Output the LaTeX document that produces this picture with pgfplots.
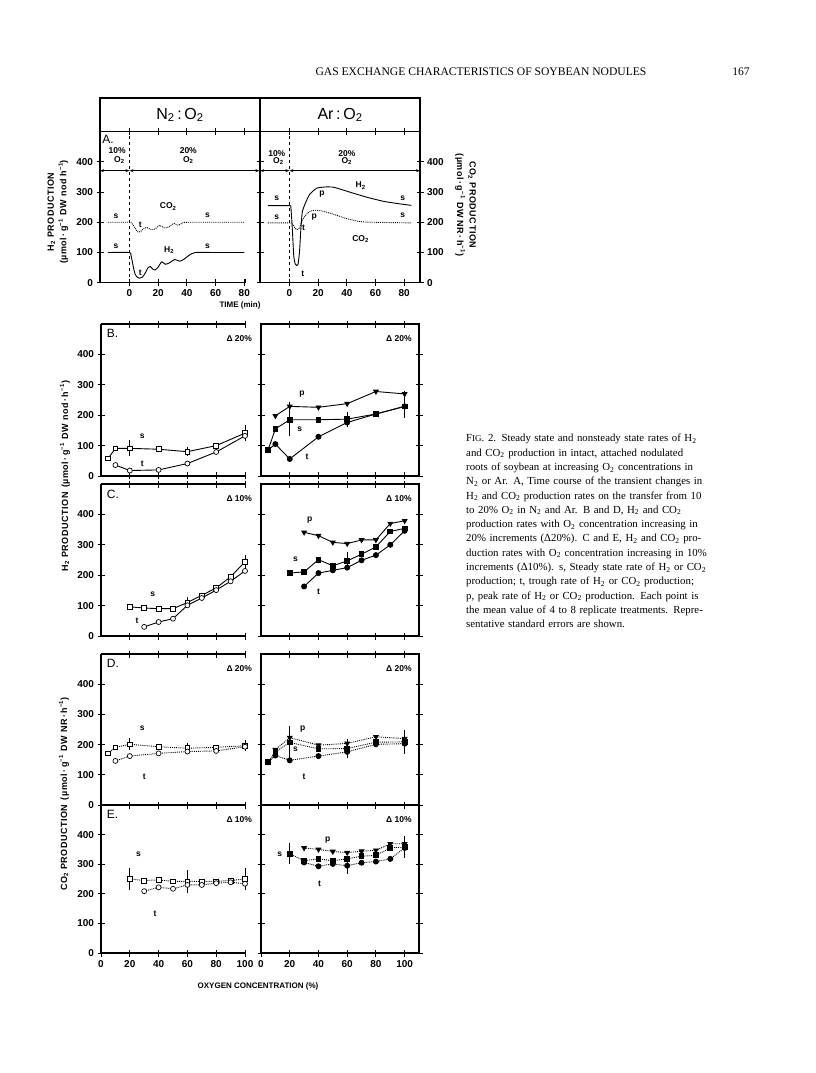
\documentclass[border=0pt]{standalone}
\usepackage{fontspec}
\setmainfont{Liberation Serif}
\setsansfont{Liberation Sans}
\usepackage{pgfplots}
\pgfplotsset{compat=1.18}
\usetikzlibrary{arrows.meta}
\setlength{\parindent}{0pt}
\newcommand{\sub}[1]{\textsubscript{#1}}
\newcommand{\sups}[1]{\textsuperscript{#1}}
\newcommand{\titfont}{\sffamily\bfseries\fontsize{9}{12.5}\selectfont\addfontfeature{LetterSpace=6}}
% top axis line and its ticks for the panels that are open on the right
\newcommand{\topticks}[1]{\pgfplotsinvokeforeach{#1}{\draw[line width=0.9pt] (axis cs:##1,500) ++(0pt,3.5pt) -- ++(0pt,-7pt);}}
\newcommand{\topline}{\draw[line width=1.1pt] (rel axis cs:0,1) -- (rel axis cs:1,1);}

\tikzset{
  lab/.style={font=\sffamily\bfseries\fontsize{8.5}{9}\selectfont, inner sep=0pt},
  plet/.style={font=\sffamily\fontsize{12}{12}\selectfont, anchor=north west, inner sep=0pt},
  dlab/.style={font=\sffamily\bfseries\fontsize{8.5}{9}\selectfont, anchor=north east, inner sep=0pt},
}
\pgfplotsset{
  panel/.style={
    scale only axis, anchor=north west, clip=false,
    ymin=0, ymax=500, ytick={0,100,200,300,400},
    tick align=center, major tick length=7pt,
    every tick/.append style={line width=0.9pt, black},
    axis line style={line width=1.1pt, black},
    tick label style={font=\sffamily\bfseries\fontsize{10}{11}\selectfont},
    /pgf/number format/assume math mode=true,
    every axis plot/.append style={line width=0.9pt, black},
  },
  openright/.style={axis x line*=bottom, axis y line*=left, x axis line style={-}, y axis line style={-}},
  lpanel/.style={panel, openright, width=144pt, xmin=0, xmax=100, xtick={20,40,60,80,100}},
  rpanel/.style={panel, width=158pt, xmin=0, xmax=110, xtick={20,40,60,80,100}, yticklabels={}},
  noxl/.style={xticklabels={}},
  osq/.style={mark=square*, mark options={fill=white, solid, line width=0.7pt}, mark size=2.4pt},
  oci/.style={mark=*, mark options={fill=white, solid, line width=0.7pt}, mark size=2.5pt},
  fsq/.style={mark=square*, mark options={fill=black, solid}, mark size=2.4pt},
  fci/.style={mark=*, mark options={fill=black, solid}, mark size=2.5pt},
  ftr/.style={mark=triangle*, mark options={fill=black, solid, rotate=180}, mark size=2.6pt},
  eb/.style={error bars/.cd, y dir=both, y explicit, error mark=none,
     error bar style={line width=0.8pt, solid}},
}

\begin{document}
\begin{tikzpicture}
\path[use as bounding box, fill=white] (0pt,0pt) rectangle (816pt,-1073pt);

% page header
\node[font=\fontsize{11.6}{12}\selectfont, anchor=base] at (481pt,-75pt) {GAS EXCHANGE CHARACTERISTICS OF SOYBEAN NODULES};
\node[font=\fontsize{11.6}{12}\selectfont, anchor=base] at (741pt,-75pt) {167};

% header box of panel A
\draw[line width=1.1pt] (100pt,-98pt) rectangle (420pt,-131.7pt);
\draw[line width=1.1pt] (260pt,-98pt) -- (260pt,-131.7pt);
\node[font=\sffamily\fontsize{16}{18}\selectfont] at (180pt,-115pt) {N\sub{2}\,:\,O\sub{2}};
\node[font=\sffamily\fontsize{16}{18}\selectfont] at (340pt,-115pt) {Ar\,:\,O\sub{2}};

% ---------------- Panel A left ----------------
\begin{axis}[panel, openright, at={(100pt,-131.7pt)}, width=145pt, height=151pt,
  xmin=-20.5, xmax=80.5, xtick={0,20,40,60,80}]
\addplot[densely dotted, smooth, tension=0.4] coordinates {
 (-15,200) (0,200) (2,195) (4,180) (6,168) (8,170) (10,180) (12,183) (15,176) (18,178)
 (21,190) (24,182) (27,184) (31,196) (34,190) (37,198) (40,200) (60,200) (80,200)};
\addplot[smooth, tension=0.4] coordinates {
 (-15,100) (0,100) (1,92) (2,70) (3,45) (4,28) (5,20) (7,15) (9,18) (11,32) (13,50)
 (14.5,54) (16.5,44) (18,42) (20,52) (22.5,69) (25,61) (28,66) (31.5,77) (35,71)
 (38,78) (42,92) (46,100) (60,100) (80,100)};
\topticks{0,20,40,60,80}
\draw[line width=0.9pt] (axis cs:80.5,0) -- ++(0pt,4pt);
\draw[dashed, line width=0.9pt] (axis cs:0,0) -- (axis cs:0,500);
\draw[line width=0.8pt, {Stealth[length=4pt]}-{Stealth[length=4pt]}] (axis cs:-20.5,371) -- (axis cs:0,371);
\draw[line width=0.8pt, {Stealth[length=4pt]}-{Stealth[length=4pt]}] (axis cs:0,371) -- (axis cs:90.5,371);
\node[plet] at (axis cs:-19,490) {A.};
\node[lab] at (axis cs:-8.6,436) {10\%};
\node[lab] at (axis cs:-7,406) {O\sub{2}};
\node[lab] at (axis cs:41,436) {20\%};
\node[lab] at (axis cs:41,406) {O\sub{2}};
\node[lab] at (axis cs:-9.3,220) {s};
\node[lab] at (axis cs:27,252) {CO\sub{2}};
\node[lab] at (axis cs:54.4,223) {s};
\node[lab] at (axis cs:7.5,191) {t};
\node[lab] at (axis cs:-9.3,121) {s};
\node[lab] at (axis cs:27.7,108) {H\sub{2}};
\node[lab] at (axis cs:7.5,33) {t};
\node[lab] at (axis cs:54.4,121) {s};
\end{axis}

% ---------------- Panel A right ----------------
\begin{axis}[panel, at={(260pt,-131.7pt)}, width=160pt, height=151pt,
  xmin=-20.5, xmax=91, xtick={0,20,40,60,80}, yticklabel pos=right]
\addplot[densely dotted, smooth, tension=0.4] coordinates {
 (-15,198) (0,198) (2,196) (4,180) (5,176) (7,180) (8,195) (10,215) (13,232) (17,240)
 (22,238) (30,228) (40,212) (50,202) (60,200) (85,198)};
\addplot[smooth, tension=0.3] coordinates {
 (-15,255) (0,255) (1,250) (2,180) (3,90) (4,62) (5,57) (6,60) (7,100) (8,180) (9,235)
 (11,262) (14,292) (19,313) (25,317) (31,316) (42,300) (54,283) (66,269) (77,261) (85,256)};
\draw[dashed, line width=0.9pt] (axis cs:0,0) -- (axis cs:0,500);
\draw[line width=0.8pt, {Stealth[length=4pt]}-{Stealth[length=4pt]}] (axis cs:-20.5,371) -- (axis cs:0,371);
\draw[line width=0.8pt, {Stealth[length=4pt]}-{Stealth[length=4pt]}] (axis cs:0,371) -- (axis cs:91,371);
\node[lab] at (axis cs:-8.8,429) {10\%};
\node[lab] at (axis cs:-7.7,402) {O\sub{2}};
\node[lab] at (axis cs:40,429) {20\%};
\node[lab] at (axis cs:40,402) {O\sub{2}};
\node[lab] at (axis cs:49.6,322) {H\sub{2}};
\node[lab] at (axis cs:-8.8,278) {s};
\node[lab] at (axis cs:22.7,295) {p};
\node[lab] at (axis cs:78.9,281) {s};
\node[lab] at (axis cs:-8.8,216) {s};
\node[lab] at (axis cs:17.3,216) {p};
\node[lab] at (axis cs:78.9,222) {s};
\node[lab] at (axis cs:9.8,181) {t};
\node[lab] at (axis cs:49.6,145) {CO\sub{2}};
\node[lab] at (axis cs:9.4,30) {t};
\end{axis}

\node[font=\sffamily\bfseries\fontsize{8}{9}\selectfont] at (240pt,-305pt) {TIME (min)};
\node[rotate=90, align=center, font=\titfont] at (58pt,-212pt)
  {H\sub{2} PRODUCTION\\(µmol\,·\,g\sups{−1} DW nod h\sups{−1})};
\node[rotate=-90, align=center, font=\titfont] at (465.5pt,-205pt)
  {CO\sub{2} PRODUCTION\\(µmol\,·\,g\sups{−1} DW NR\,·\,h\sups{−1})};

% ---------------- Panel B left ----------------
\begin{axis}[lpanel, noxl, at={(101pt,-324pt)}, height=152pt]
\addplot[osq, eb] coordinates {(5,58) +- (0,0) (10,91) +- (0,0) (20,91) +- (0,26) (40,88) +- (0,0)
 (60,80) +- (0,15) (80,100) +- (0,0) (100,141) +- (0,26)};
\addplot[oci] coordinates {(10,36) (20,18) (40,20) (60,41) (80,79) (100,132)};
\topline \topticks{20,40,60,80,100}
\node[plet] at (axis cs:4,482) {B.};
\node[dlab] at (axis cs:105,462) {Δ 20\%};
\node[lab] at (axis cs:28.6,132) {s};
\node[lab] at (axis cs:28.6,40) {t};
\end{axis}

% ---------------- Panel B right ----------------
\begin{axis}[rpanel, noxl, at={(261pt,-324pt)}, height=152pt]
\addplot[ftr, eb] coordinates {(10,198) +- (0,0) (20,229) +- (0,15) (40,226) +- (0,0) (60,238) +- (0,0)
 (80,278) +- (0,0) (100,270) +- (0,10)};
\addplot[fsq, eb] coordinates {(5,86) +- (0,0) (10,155) +- (0,0) (20,185) +- (0,55) (40,185) +- (0,0)
 (60,187) +- (0,25) (80,204) +- (0,0) (100,229) +- (0,38)};
\addplot[fci] coordinates {(5,86) (10,105) (20,56) (40,129) (60,176) (80,204) (100,229)};
\node[dlab] at (axis cs:105,462) {Δ 20\%};
\node[lab] at (axis cs:28.6,270) {p};
\node[lab] at (axis cs:27,155) {s};
\node[lab] at (axis cs:32,64) {t};
\end{axis}

% ---------------- Panel C left ----------------
\begin{axis}[lpanel, noxl, at={(101pt,-484pt)}, height=152pt]
\addplot[osq, eb] coordinates {(20,96) +- (0,5) (30,92) +- (0,0) (40,90) +- (0,0) (50,90) +- (0,0)
 (60,110) +- (0,18) (70,134) +- (0,0) (80,158) +- (0,0) (90,195) +- (0,0) (100,244) +- (0,22)};
\addplot[oci] coordinates {(30,30) (40,46) (50,57) (60,101) (70,125) (80,151) (90,180) (100,214)};
\topline \topticks{20,40,60,80,100}
\node[plet] at (axis cs:4,482) {C.};
\node[dlab] at (axis cs:105,462) {Δ 10\%};
\node[lab] at (axis cs:36,137) {s};
\node[lab] at (axis cs:25,49) {t};
\end{axis}

% ---------------- Panel C right ----------------
\begin{axis}[rpanel, noxl, at={(261pt,-484pt)}, height=152pt]
\addplot[ftr] coordinates {(30,341) (40,330) (50,308) (60,304) (70,316) (80,316) (90,370) (100,379)};
\addplot[fsq, eb] coordinates {(20,207) +- (0,10) (30,211) +- (0,0) (40,251) +- (0,0) (50,231) +- (0,0)
 (60,247) +- (0,30) (70,269) +- (0,0) (80,293) +- (0,0) (90,344) +- (0,0) (100,354) +- (0,0)};
\addplot[fci] coordinates {(30,163) (40,207) (50,216) (60,225) (70,249) (80,266) (90,300) (100,346)};
\node[dlab] at (axis cs:105,462) {Δ 10\%};
\node[lab] at (axis cs:34,382) {p};
\node[lab] at (axis cs:24,251) {s};
\node[lab] at (axis cs:40,145) {t};
\end{axis}

\node[rotate=90, font=\titfont] at (65pt,-476pt)
  {H\sub{2} PRODUCTION\enspace(µmol\,·\,g\sups{−1} DW nod\,·\,h\sups{−1})};

% ---------------- Panel D left ----------------
\begin{axis}[lpanel, noxl, at={(101pt,-654pt)}, height=151pt]
\addplot[densely dotted, osq, eb] coordinates {(5,171) +- (0,0) (10,191) +- (0,0) (20,201) +- (0,20)
 (40,193) +- (0,0) (60,188) +- (0,18) (80,191) +- (0,0) (100,196) +- (0,18)};
\addplot[densely dotted, oci] coordinates {(10,146) (20,162) (40,171) (60,177) (80,179) (100,193)};
\topline \topticks{20,40,60,80,100}
\node[plet] at (axis cs:4,482) {D.};
\node[dlab] at (axis cs:105,462) {Δ 20\%};
\node[lab] at (axis cs:28.6,254) {s};
\node[lab] at (axis cs:30,94) {t};
\end{axis}

% ---------------- Panel D right ----------------
\begin{axis}[rpanel, noxl, at={(261pt,-654pt)}, height=151pt]
\addplot[densely dotted, ftr] coordinates {(10,183) (20,223) (40,198) (60,204) (80,226) (100,220)};
\addplot[densely dotted, fsq, eb] coordinates {(5,142) +- (0,0) (10,176) +- (0,0) (20,207) +- (0,55)
 (40,186) +- (0,0) (60,187) +- (0,30) (80,208) +- (0,0) (100,209) +- (0,40)};
\addplot[densely dotted, fci] coordinates {(5,142) (10,164) (20,148) (40,162) (60,176) (80,201) (100,203)};
\node[dlab] at (axis cs:105,462) {Δ 20\%};
\node[lab] at (axis cs:29,253) {p};
\node[lab] at (axis cs:24,184) {s};
\node[lab] at (axis cs:30,92) {t};
\end{axis}

% ---------------- Panel E left ----------------
\begin{axis}[lpanel, at={(101pt,-805pt)}, height=148pt, xtick={0,20,40,60,80,100}]
\addplot[densely dotted, osq, eb] coordinates {(20,250) +- (0,38) (30,245) +- (0,0) (40,247) +- (0,0)
 (50,242) +- (0,0) (60,242) +- (0,38) (70,242) +- (0,0) (80,242) +- (0,0) (90,245) +- (0,0) (100,250) +- (0,36)};
\addplot[densely dotted, oci] coordinates {(30,209) (40,222) (50,217) (60,230) (70,230) (80,236) (90,239) (100,234)};
\topline \topticks{20,40,60,80,100}
\node[plet] at (axis cs:4,482) {E.};
\node[dlab] at (axis cs:105,462) {Δ 10\%};
\node[lab] at (axis cs:26,333) {s};
\node[lab] at (axis cs:37.6,133) {t};
\end{axis}

% ---------------- Panel E right ----------------
\begin{axis}[rpanel, at={(261pt,-805pt)}, height=148pt, xtick={0,20,40,60,80,100}, xticklabels={0,20,40,60,80,100}]
\addplot[densely dotted, ftr] coordinates {(30,355) (40,350) (50,343) (60,339) (70,344) (80,347) (90,369) (100,369)};
\addplot[densely dotted, fsq, eb] coordinates {(20,335) +- (0,35) (30,312) +- (0,0) (40,318) +- (0,0)
 (50,312) +- (0,0) (60,318) +- (0,0) (70,327) +- (0,0) (80,330) +- (0,0) (90,355) +- (0,0) (100,358) +- (0,38)};
\addplot[densely dotted, fci, eb] coordinates {(30,306) +- (0,0) (40,293) +- (0,0) (50,301) +- (0,0)
 (60,295) +- (0,27) (70,305) +- (0,0) (80,309) +- (0,0) (90,318) +- (0,0) (100,355) +- (0,0)};
\node[dlab] at (axis cs:105,462) {Δ 10\%};
\node[lab] at (axis cs:46.5,383) {p};
\node[lab] at (axis cs:13,333) {s};
\node[lab] at (axis cs:40.7,233) {t};
\end{axis}

\node[rotate=90, font=\titfont] at (64pt,-794pt)
  {CO\sub{2} PRODUCTION\enspace(µmol\,·\,g\sups{−1} DW NR\,·\,h\sups{−1})};
\node[font=\sffamily\bfseries\fontsize{8}{9}\selectfont] at (258pt,-986pt) {OXYGEN CONCENTRATION (\%)};

% caption
\node[anchor=north west, inner sep=0pt, text width=270pt, font=\fontsize{10.8}{14.3}\selectfont] at (466pt,-434pt) {%
\makebox[270pt][s]{F{\small IG}. 2. Steady state and nonsteady state rates of H\sub{2}}\par
\makebox[270pt][s]{and CO\sub{2} production in intact, attached nodulated}\par
\makebox[270pt][s]{roots of soybean at increasing O\sub{2} concentrations in}\par
\makebox[270pt][s]{N\sub{2} or Ar. A, Time course of the transient changes in}\par
\makebox[270pt][s]{H\sub{2} and CO\sub{2} production rates on the transfer from 10}\par
\makebox[270pt][s]{to 20\% O\sub{2} in N\sub{2} and Ar. B and D, H\sub{2} and CO\sub{2}}\par
\makebox[270pt][s]{production rates with O\sub{2} concentration increasing in}\par
\makebox[270pt][s]{20\% increments (Δ20\%). C and E, H\sub{2} and CO\sub{2} pro-}\par
\makebox[270pt][s]{duction rates with O\sub{2} concentration increasing in 10\%}\par
\makebox[270pt][s]{increments (Δ10\%). s, Steady state rate of H\sub{2} or CO\sub{2}}\par
\makebox[270pt][s]{production; t, trough rate of H\sub{2} or CO\sub{2} production;}\par
\makebox[270pt][s]{p, peak rate of H\sub{2} or CO\sub{2} production. Each point is}\par
\makebox[270pt][s]{the mean value of 4 to 8 replicate treatments. Repre-}\par
sentative standard errors are shown.};
\end{tikzpicture}
\end{document}
